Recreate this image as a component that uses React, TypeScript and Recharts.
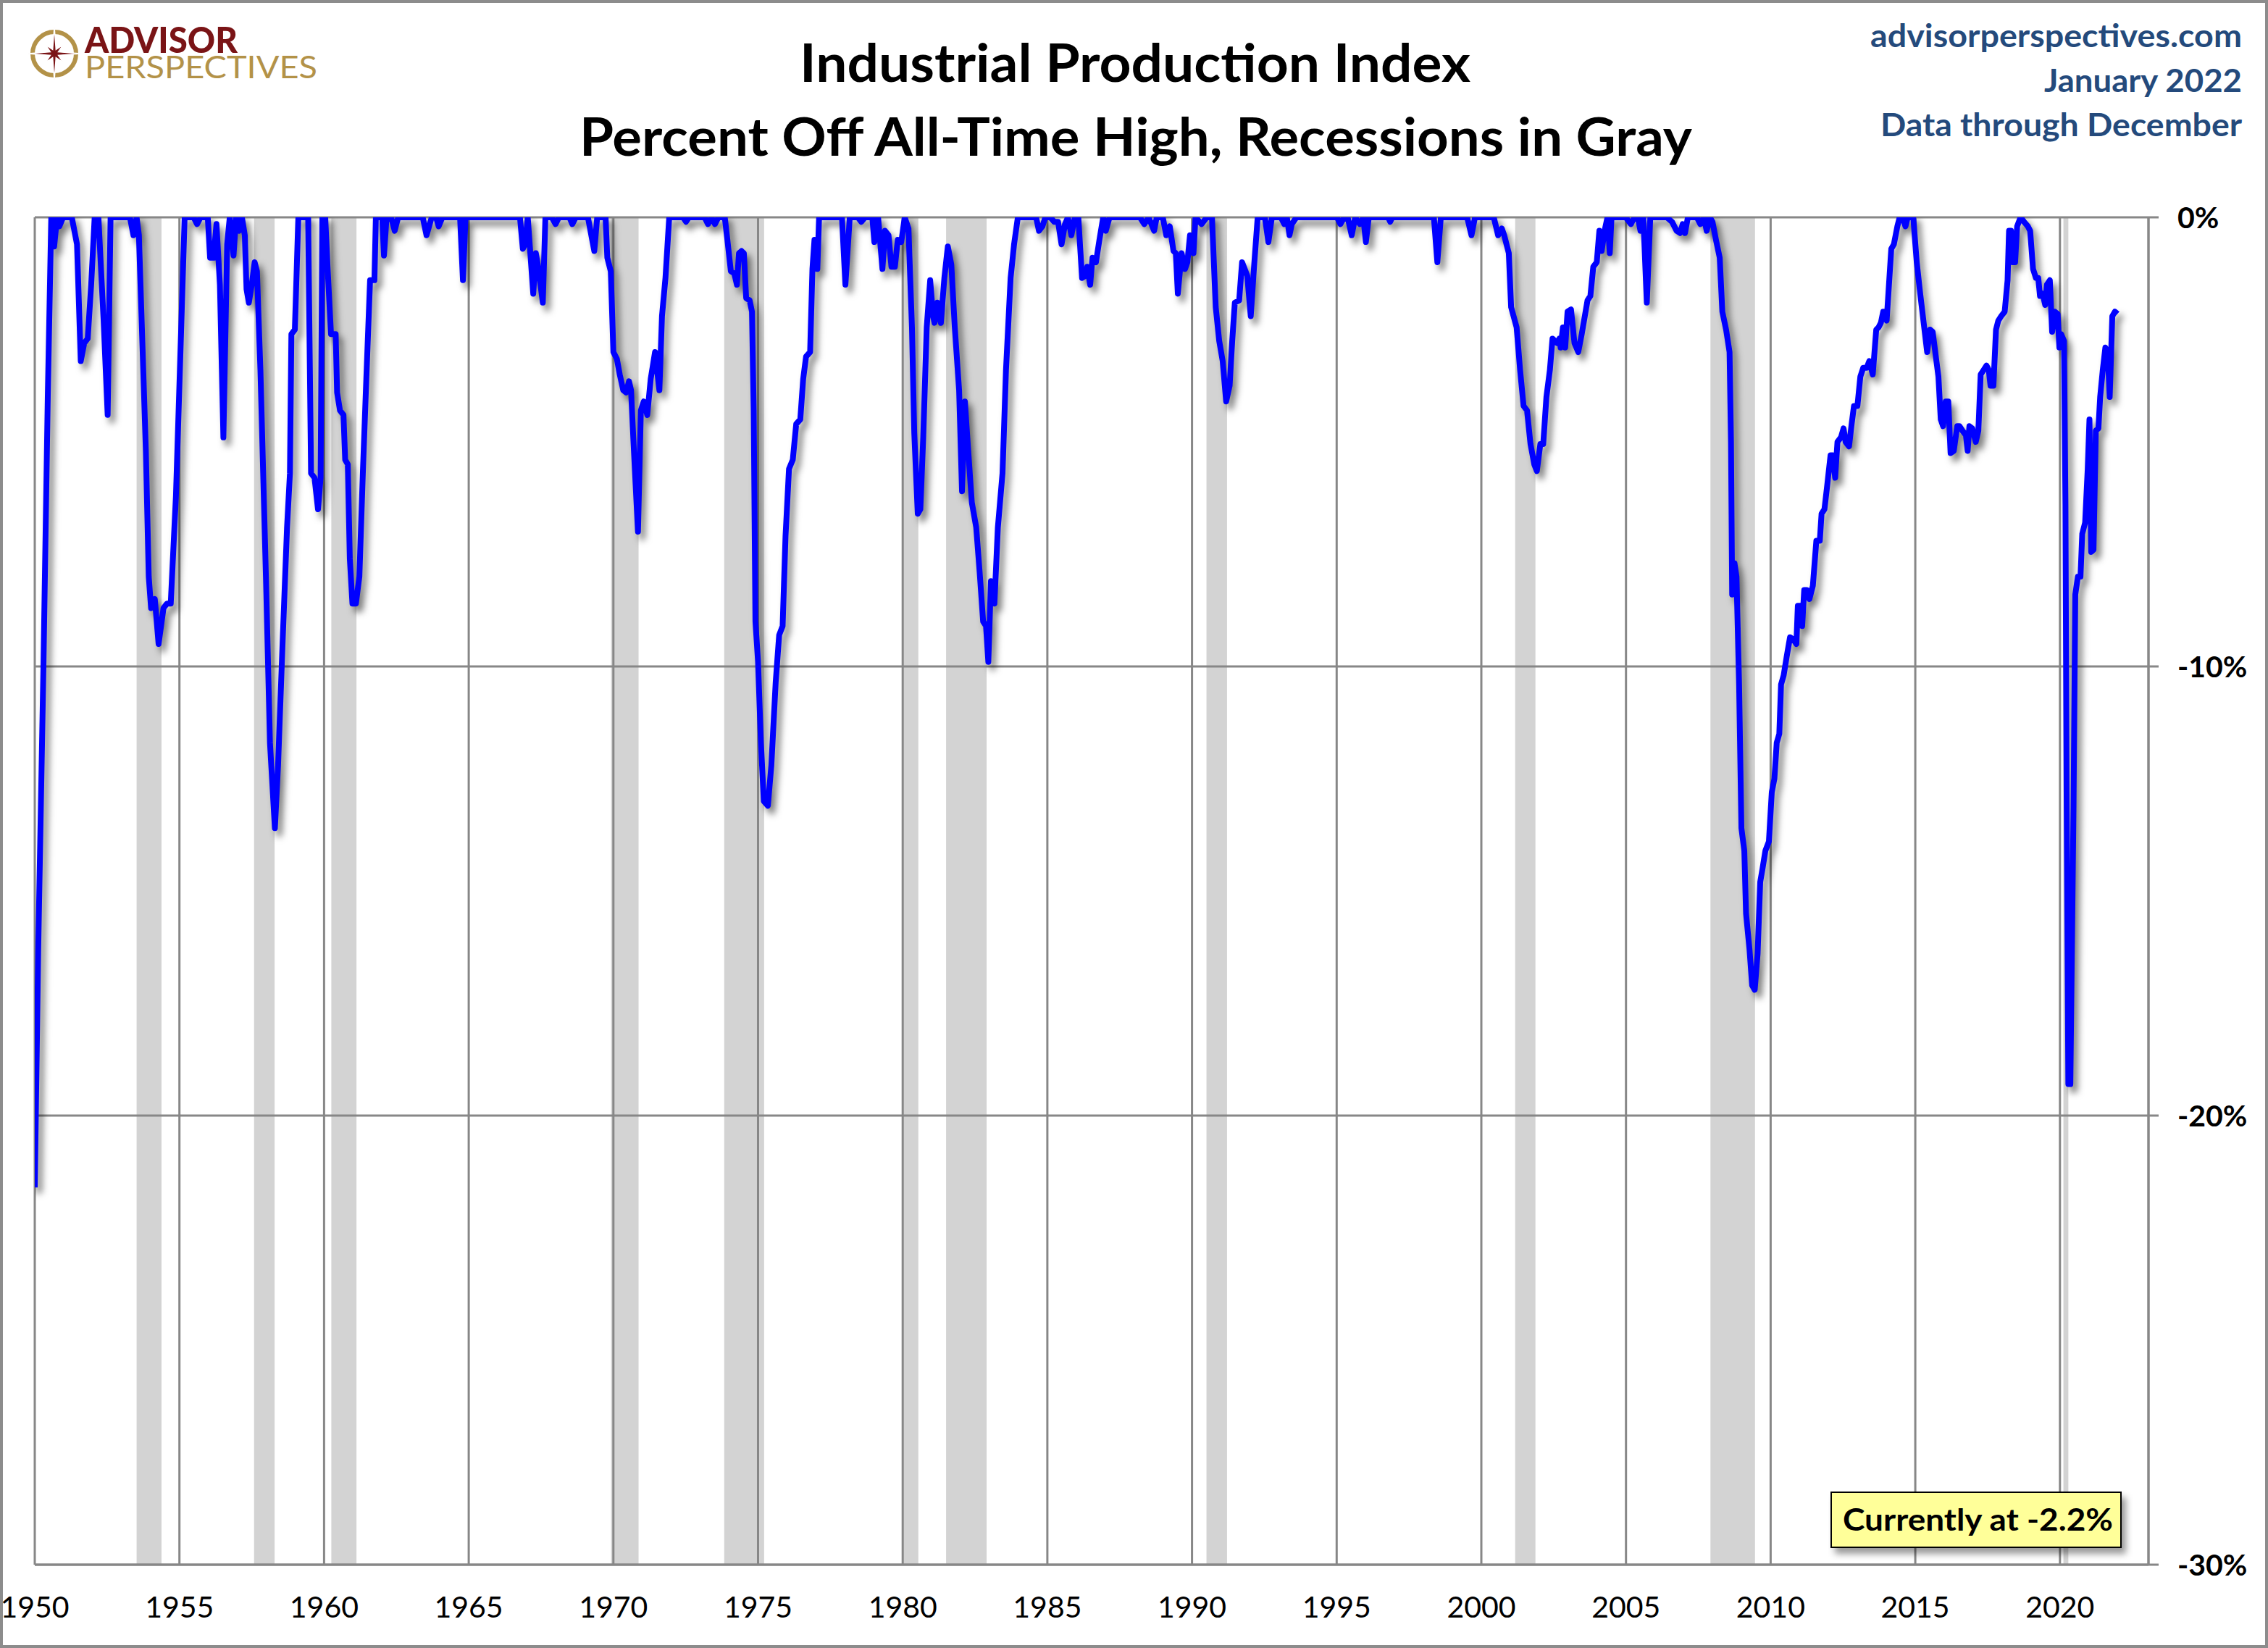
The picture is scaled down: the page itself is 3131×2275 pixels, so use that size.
import React from "react";
import {
  LineChart,
  Line,
  XAxis,
  YAxis,
  CartesianGrid,
  ReferenceArea,
} from "recharts";

const FONT = "Lato, 'Open Sans', sans-serif";
const GRID = "#878787";
const NAVY = "#244A7C";

// [decimal year, percent off all-time high]
const fifties = [
  [1950.0, -21.6], [1950.12, -16.3], [1950.3, -10], [1950.45, -4], [1950.57, 0],
  [1950.67, -0.65], [1950.77, 0], [1950.85, -0.2], [1950.98, 0], [1951.28, 0],
  [1951.46, -0.6], [1951.59, -3.2], [1951.71, -2.8], [1951.83, -2.7], [1951.95, -1.5],
  [1952.07, 0], [1952.2, 0], [1952.38, -2.3], [1952.52, -4.4], [1952.62, 0],
  [1953.29, 0], [1953.41, -0.4], [1953.52, 0], [1953.6, -0.4], [1953.72, -2.8],
  [1953.84, -5.2], [1953.94, -8.0], [1954.02, -8.7], [1954.15, -8.5], [1954.28, -9.5],
  [1954.45, -8.7], [1954.57, -8.6], [1954.7, -8.6], [1954.88, -6.2], [1955.06, -2.5],
  [1955.18, 0], [1955.49, 0], [1955.61, -0.15], [1955.73, 0], [1955.98, 0],
  [1956.06, -0.9], [1956.18, -0.9], [1956.28, -0.15], [1956.4, -1.5], [1956.52, -4.9],
  [1956.65, -0.6], [1956.74, 0], [1956.87, -0.85], [1956.96, 0], [1957.07, -0.3],
  [1957.16, 0], [1957.26, -0.4], [1957.32, -1.6], [1957.4, -1.9], [1957.5, -1.5],
  [1957.6, -1.0], [1957.68, -1.2], [1957.8, -3.4], [1957.99, -8.0], [1958.13, -11.7],
  [1958.3, -13.6], [1958.41, -12.2], [1958.57, -9.4], [1958.72, -6.9], [1958.82, -5.7],
  [1958.87, -2.6], [1958.99, -2.5], [1959.11, 0], [1959.45, 0], [1959.55, -5.7],
  [1959.67, -5.8], [1959.79, -6.5], [1959.88, -5.8], [1959.94, 0],
];

const sixties = [
  [1960.04, 0], [1960.12, -1.1], [1960.24, -2.6], [1960.4, -2.6], [1960.45, -3.9],
  [1960.55, -4.3], [1960.67, -4.4], [1960.73, -5.4], [1960.82, -5.5], [1960.89, -7.6],
  [1960.98, -8.6], [1961.1, -8.6], [1961.22, -8.0], [1961.34, -5.7], [1961.46, -3.6],
  [1961.59, -1.4], [1961.74, -1.4], [1961.79, 0], [1962.01, 0], [1962.07, -0.85],
  [1962.16, 0], [1962.32, 0], [1962.44, -0.3], [1962.56, 0], [1963.41, 0],
  [1963.54, -0.4], [1963.72, 0], [1963.87, 0], [1963.96, -0.2], [1964.09, 0],
  [1964.7, 0], [1964.8, -1.4], [1964.89, 0], [1966.77, 0], [1966.87, -0.7],
  [1966.95, -0.6], [1967.04, 0], [1967.23, -1.7], [1967.32, -0.8], [1967.4, -1.1],
  [1967.56, -1.9], [1967.65, 0], [1967.87, 0], [1968.0, -0.15], [1968.12, 0],
  [1968.48, 0], [1968.58, -0.15], [1968.7, 0], [1969.12, 0], [1969.34, -0.75],
  [1969.44, 0], [1969.73, 0], [1969.79, -0.9], [1969.91, -1.2],
];

const seventies = [
  [1970.0, -3.0], [1970.12, -3.15], [1970.22, -3.5], [1970.34, -3.85], [1970.44, -3.9],
  [1970.54, -3.65], [1970.61, -3.85], [1970.71, -5.2], [1970.85, -7.0], [1970.95, -4.3],
  [1971.05, -4.1], [1971.17, -4.4], [1971.29, -3.6], [1971.44, -3.0], [1971.59, -3.85],
  [1971.68, -2.2], [1971.8, -1.35], [1971.93, 0], [1972.41, 0], [1972.51, -0.1],
  [1972.61, 0], [1973.15, 0], [1973.27, -0.15], [1973.39, 0], [1973.51, -0.15],
  [1973.63, 0], [1973.85, 0], [1973.94, -0.5], [1974.06, -1.2], [1974.18, -1.25],
  [1974.27, -1.5], [1974.34, -0.8], [1974.43, -0.75], [1974.51, -0.8], [1974.59, -1.8],
  [1974.71, -1.85], [1974.79, -2.1], [1974.85, -4.3], [1974.91, -9.0], [1975.0, -9.9],
  [1975.1, -11.7], [1975.2, -13.0], [1975.34, -13.1], [1975.46, -12.2], [1975.61, -10.35],
  [1975.73, -9.3], [1975.85, -9.1], [1975.95, -7.1], [1976.07, -5.6], [1976.2, -5.4],
  [1976.32, -4.6], [1976.46, -4.5], [1976.56, -3.6], [1976.66, -3.1], [1976.8, -3.0],
  [1976.88, -1.15], [1976.95, -0.5], [1977.05, -1.15], [1977.11, 0], [1977.9, 0],
  [1978.02, -1.5], [1978.17, 0], [1978.45, 0], [1978.57, -0.1], [1978.7, 0],
  [1978.95, 0], [1979.02, -0.55], [1979.15, 0], [1979.3, -1.15], [1979.39, -0.3],
  [1979.51, -0.4], [1979.61, -1.1], [1979.73, -1.1], [1979.83, -0.5], [1979.95, -0.55],
];

const eighties = [
  [1980.07, 0], [1980.2, -0.25], [1980.32, -2.45], [1980.4, -4.8], [1980.52, -6.6],
  [1980.61, -6.5], [1980.71, -4.9], [1980.83, -2.45], [1980.95, -1.4], [1981.05, -2.2],
  [1981.1, -2.35], [1981.2, -1.9], [1981.32, -2.35], [1981.44, -1.35], [1981.56, -0.65],
  [1981.68, -1.05], [1981.8, -2.45], [1981.95, -3.85], [1982.05, -6.1], [1982.15, -4.1],
  [1982.27, -5.25], [1982.39, -6.35], [1982.54, -6.9], [1982.66, -7.9], [1982.78, -9.0],
  [1982.88, -9.1], [1982.96, -9.9], [1983.05, -8.1], [1983.17, -8.6], [1983.29, -6.9],
  [1983.45, -5.7], [1983.57, -3.4], [1983.73, -1.35], [1983.85, -0.6], [1983.98, 0],
  [1984.61, 0], [1984.71, -0.3], [1984.83, -0.2], [1984.93, 0], [1985.1, 0],
  [1985.24, -0.1], [1985.37, -0.1], [1985.49, -0.6], [1985.61, -0.15], [1985.71, 0],
  [1985.83, -0.4], [1985.95, 0], [1986.07, 0], [1986.2, -1.35], [1986.32, -1.3],
  [1986.38, -1.1], [1986.48, -1.5], [1986.56, -0.9], [1986.68, -1.0], [1986.8, -0.5],
  [1986.93, 0], [1987.02, -0.3], [1987.15, 0], [1988.2, 0], [1988.35, -0.15],
  [1988.5, 0], [1988.69, -0.3], [1988.78, 0], [1988.99, 0], [1989.11, -0.4],
  [1989.23, -0.2], [1989.36, -0.75], [1989.44, -0.8], [1989.51, -1.7], [1989.64, -0.8],
  [1989.76, -1.15], [1989.84, -1.0], [1989.93, -0.4],
];

const nineties = [
  [1990.05, -0.8], [1990.12, 0], [1990.33, -0.15], [1990.51, 0], [1990.69, 0],
  [1990.82, -2.0], [1990.94, -2.75], [1991.06, -3.2], [1991.18, -4.1], [1991.3, -3.75],
  [1991.39, -2.75], [1991.48, -1.9], [1991.63, -1.85], [1991.73, -1.0], [1991.82, -1.15],
  [1991.91, -1.3], [1992.03, -2.2], [1992.15, -1.05], [1992.27, 0], [1992.52, 0],
  [1992.64, -0.55], [1992.76, 0], [1993.07, 0], [1993.19, -0.15], [1993.28, 0],
  [1993.37, -0.4], [1993.45, -0.15], [1993.61, 0], [1995.01, 0], [1995.13, -0.15],
  [1995.26, 0], [1995.38, 0], [1995.52, -0.4], [1995.64, 0], [1995.8, -0.15],
  [1995.92, 0], [1996.01, -0.55], [1996.11, 0], [1996.78, 0], [1996.85, -0.1],
  [1996.92, 0], [1998.36, 0], [1998.48, -1.0], [1998.6, 0], [1999.51, 0],
  [1999.66, -0.4], [1999.78, 0],
];

const twoThousands = [
  [2000.43, 0], [2000.58, -0.4], [2000.71, -0.25], [2000.79, -0.4], [2000.95, -0.8],
  [2001.03, -2.0], [2001.22, -2.45], [2001.34, -3.4], [2001.46, -4.2], [2001.58, -4.3],
  [2001.7, -5.05], [2001.83, -5.5], [2001.92, -5.65], [2002.04, -5.05], [2002.14, -5.05],
  [2002.25, -4.0], [2002.37, -3.4], [2002.46, -2.7], [2002.62, -2.8], [2002.7, -2.7],
  [2002.74, -2.9], [2002.82, -2.45], [2002.9, -2.9], [2002.98, -2.1], [2003.1, -2.05],
  [2003.22, -2.8], [2003.35, -3.0], [2003.47, -2.6], [2003.55, -2.3], [2003.67, -1.85],
  [2003.77, -1.75], [2003.87, -1.1], [2003.99, -1.0], [2004.08, -0.3], [2004.16, -0.75],
  [2004.26, -0.3], [2004.36, 0], [2004.44, -0.8], [2004.5, 0], [2004.99, 0],
  [2005.17, -0.15], [2005.29, 0], [2005.41, 0], [2005.5, -0.3], [2005.6, 0],
  [2005.72, -1.9], [2005.84, 0], [2006.41, 0], [2006.59, -0.1], [2006.75, -0.3],
  [2006.87, -0.35], [2006.96, -0.15], [2007.04, -0.35], [2007.14, 0], [2007.45, 0],
  [2007.57, -0.15], [2007.69, 0], [2007.79, -0.3], [2007.9, 0], [2007.99, -0.1],
  [2008.11, -0.5], [2008.24, -0.9], [2008.33, -2.1], [2008.46, -2.5], [2008.58, -3.0],
  [2008.63, -5.0], [2008.67, -8.4], [2008.75, -7.7], [2008.82, -8.0], [2008.91, -10.4],
  [2008.99, -13.6], [2009.09, -14.1], [2009.15, -15.5], [2009.27, -16.3], [2009.36, -17.1],
  [2009.45, -17.2], [2009.55, -16.4], [2009.64, -14.8], [2009.72, -14.5], [2009.82, -14.1],
  [2009.94, -13.9],
];

const twentyTens = [
  [2010.04, -12.8], [2010.13, -12.5], [2010.21, -11.7], [2010.3, -11.5], [2010.36, -10.4],
  [2010.45, -10.2], [2010.55, -9.8], [2010.67, -9.35], [2010.79, -9.4], [2010.89, -9.5],
  [2010.94, -8.65], [2011.03, -8.65], [2011.09, -9.1], [2011.16, -8.3], [2011.25, -8.3],
  [2011.34, -8.5], [2011.46, -8.2], [2011.58, -7.2], [2011.7, -7.2], [2011.76, -6.6],
  [2011.86, -6.5], [2011.95, -6.0], [2012.07, -5.3], [2012.15, -5.3], [2012.23, -5.8],
  [2012.31, -5.0], [2012.43, -4.9], [2012.52, -4.7], [2012.59, -5.0], [2012.71, -5.1],
  [2012.8, -4.6], [2012.88, -4.2], [2013.0, -4.2], [2013.1, -3.55], [2013.2, -3.35],
  [2013.32, -3.35], [2013.41, -3.2], [2013.53, -3.5], [2013.65, -2.5], [2013.73, -2.45],
  [2013.81, -2.35], [2013.89, -2.1], [2014.01, -2.3], [2014.08, -1.6], [2014.17, -0.7],
  [2014.26, -0.6], [2014.38, -0.2], [2014.46, 0], [2014.56, 0], [2014.66, -0.2],
  [2014.74, 0], [2014.93, 0], [2015.05, -1.0], [2015.17, -1.7], [2015.29, -2.35],
  [2015.41, -3.0], [2015.51, -2.5], [2015.6, -2.55], [2015.72, -3.15], [2015.8, -3.55],
  [2015.88, -4.5], [2015.96, -4.65], [2016.05, -4.1], [2016.14, -4.1], [2016.22, -5.25],
  [2016.33, -5.2], [2016.45, -4.65], [2016.53, -4.65], [2016.63, -4.75], [2016.75, -4.85],
  [2016.81, -5.2], [2016.87, -4.65], [2016.97, -4.7], [2017.09, -5.0], [2017.18, -4.75],
  [2017.26, -3.5], [2017.36, -3.4], [2017.46, -3.3], [2017.54, -3.4], [2017.6, -3.75],
  [2017.7, -3.75], [2017.79, -2.5], [2017.87, -2.3], [2017.97, -2.2], [2018.09, -2.1],
  [2018.19, -1.4], [2018.24, -0.3], [2018.31, -0.3], [2018.36, -1.0], [2018.45, -1.0],
  [2018.52, -0.2], [2018.64, 0], [2018.76, -0.1], [2018.89, -0.2], [2018.97, -0.3],
  [2019.07, -1.15], [2019.17, -1.35], [2019.25, -1.35], [2019.31, -1.75], [2019.4, -1.7],
  [2019.49, -1.95], [2019.55, -1.5], [2019.65, -1.4], [2019.73, -2.55], [2019.82, -2.1],
  [2019.92, -2.15], [2019.98, -2.9],
];

const twenties = [
  [2020.04, -2.6], [2020.14, -2.75], [2020.19, -6.4], [2020.23, -12.8], [2020.29, -19.3],
  [2020.36, -19.3], [2020.47, -13.1], [2020.53, -8.4], [2020.62, -8.0], [2020.71, -8.0],
  [2020.77, -7.05], [2020.87, -6.8], [2020.96, -5.6], [2021.02, -4.5], [2021.08, -7.45],
  [2021.16, -7.4], [2021.24, -4.75], [2021.33, -4.7], [2021.39, -4.0], [2021.48, -3.4],
  [2021.57, -2.9], [2021.65, -3.0], [2021.72, -4.0], [2021.81, -2.2], [2021.9, -2.1],
  [2021.99, -2.15],
];

// NBER recessions, [start, end] in decimal years
const recessions = [
  [1953.52, 1954.38], [1957.58, 1958.29], [1960.25, 1961.12], [1969.92, 1970.87],
  [1973.83, 1975.21], [1980.0, 1980.54], [1981.5, 1982.9], [1990.5, 1991.21],
  [2001.17, 2001.87], [2007.92, 2009.46], [2020.12, 2020.29],
];

const xTicks = [1950, 1955, 1960, 1965, 1970, 1975, 1980, 1985, 1990, 1995, 2000, 2005, 2010, 2015, 2020];
const yTicks = [-30, -20, -10, 0];

const data = [
  ...fifties, ...sixties, ...seventies, ...eighties,
  ...nineties, ...twoThousands, ...twentyTens, ...twenties,
].map(([year, pct]) => ({ year, pct }));

function Compass() {
  const pts = Array.from({ length: 16 }, (_, i) => {
    const r = i % 4 === 0 ? 37 : i % 2 === 0 ? 17 : 6;
    const a = (i * Math.PI) / 8 - Math.PI / 2;
    return `${75 + r * Math.cos(a)},${74 + r * Math.sin(a)}`;
  }).join(" ");
  return (
    <g>
      <circle cx={75} cy={74} r={30} fill="none" stroke="#B39248" strokeWidth={6} />
      <polygon points={pts} fill="#7A1416" stroke="#fff" strokeWidth={1.5} />
    </g>
  );
}

export default function App() {
  return (
    <div style={{ position: "relative", width: 3131, height: 2275, background: "#fff", overflow: "hidden", fontFamily: FONT }}>
      <style>{`body{margin:0}.recharts-line-curve{filter:drop-shadow(6px 8px 5px rgba(0,0,0,0.5));}`}</style>
      <LineChart
        width={3131}
        height={2275}
        data={data}
        margin={{ top: 300, right: 0, bottom: 0, left: 48 }}
      >
        {recessions.map(([a, b], i) => (
          <ReferenceArea
            key={`rec-${i}`}
            x1={a}
            x2={b}
            y1={-30}
            y2={0}
            fill="#D3D3D3"
            fillOpacity={1}
            stroke="none"
            zIndex={-200}
          />
        ))}
        <CartesianGrid stroke={GRID} strokeWidth={3} zIndex={-100} />
        <XAxis
          dataKey="year"
          type="number"
          domain={[1950, 2023.06]}
          ticks={xTicks}
          allowDataOverflow
          height={115}
          axisLine={{ stroke: GRID, strokeWidth: 3 }}
          tickLine={false}
          tickSize={0}
          tickMargin={44}
          tick={{ fontSize: 41, fill: "#000", fontFamily: FONT }}
          interval={0}
        />
        <YAxis
          orientation="right"
          domain={[-30, 0]}
          ticks={yTicks}
          allowDataOverflow
          width={165}
          axisLine={{ stroke: GRID, strokeWidth: 3 }}
          tickLine={{ stroke: GRID, strokeWidth: 3 }}
          tickSize={14}
          tickMargin={26}
          tickFormatter={(v) => `${v}%`}
          tick={{ fontSize: 41, fontWeight: 700, fill: "#000", fontFamily: FONT }}
          interval={0}
        />
        <Line
          type="linear"
          dataKey="pct"
          stroke="#0000FF"
          strokeWidth={8}
          strokeLinejoin="round"
          dot={false}
          isAnimationActive={false}
        />
      </LineChart>

      <svg width={3131} height={2275} style={{ position: "absolute", left: 0, top: 0, pointerEvents: "none" }}>
        <defs>
          <filter id="boxShadow" x="-10%" y="-20%" width="130%" height="160%">
            <feDropShadow dx="6" dy="8" stdDeviation="5" floodColor="#000" floodOpacity="0.4" />
          </filter>
        </defs>
        <Compass />
        <text fontFamily={FONT}>
          <tspan x={117} y={73} fontSize={49} fontWeight={900} fill="#7A1416" textLength={211} lengthAdjust="spacingAndGlyphs">
            ADVISOR
          </tspan>
          <tspan x={117} y={108} fontSize={43} fontWeight={400} fill="#B39248" textLength={321} lengthAdjust="spacingAndGlyphs">
            PERSPECTIVES
          </tspan>
        </text>

        <text x={1567} y={113} textAnchor="middle" fontSize={72} fontWeight={700} fill="#000" fontFamily={FONT} textLength={926} lengthAdjust="spacingAndGlyphs">
          Industrial Production Index
        </text>
        <text x={1568} y={215} textAnchor="middle" fontSize={72} fontWeight={700} fill="#000" fontFamily={FONT} textLength={1536} lengthAdjust="spacingAndGlyphs">
          Percent Off All-Time High, Recessions in Gray
        </text>

        <text x={3095} y={65} textAnchor="end" fontSize={44} fontWeight={700} fill={NAVY} fontFamily={FONT} textLength={513} lengthAdjust="spacingAndGlyphs">
          advisorperspectives.com
        </text>
        <text x={3095} y={127} textAnchor="end" fontSize={44} fontWeight={700} fill={NAVY} fontFamily={FONT} textLength={273} lengthAdjust="spacingAndGlyphs">
          January 2022
        </text>
        <text x={3095} y={188} textAnchor="end" fontSize={44} fontWeight={700} fill={NAVY} fontFamily={FONT} textLength={499} lengthAdjust="spacingAndGlyphs">
          Data through December
        </text>

        <rect x={2528} y={2060} width={400} height={76} fill="#FFFF99" stroke="#000" strokeWidth={2} filter="url(#boxShadow)" />
        <text x={2544} y={2113} fontSize={42} fontWeight={700} fill="#000" fontFamily={FONT} textLength={373} lengthAdjust="spacingAndGlyphs">
          Currently at -2.2%
        </text>
      </svg>
      <div style={{ position: "absolute", inset: 0, border: "4px solid #8C8C8C", pointerEvents: "none" }} />
    </div>
  );
}
